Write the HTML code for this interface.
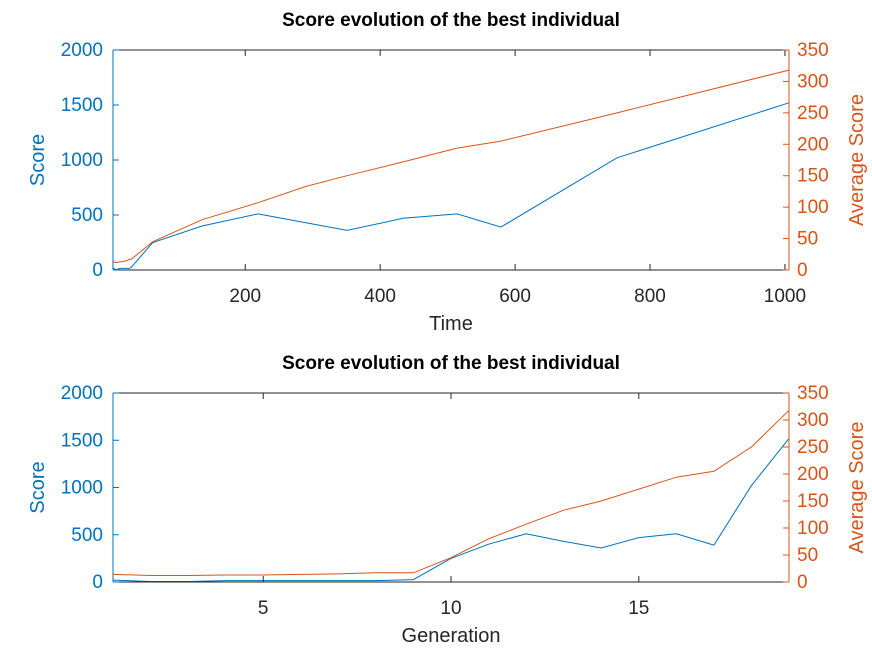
<!DOCTYPE html>
<html><head><meta charset="utf-8"><style>
body{margin:0;background:#fff;}
svg text{font-family:"Liberation Sans",sans-serif;}
</style></head><body>
<svg id="c" width="872" height="654" xmlns="http://www.w3.org/2000/svg"></svg>
<script>
const generations=[1,2,3,4,5,6,7,8,9,10,11,12,13,14,15,16,17,18,19];
const times=[4,7,10,14,17,21,25,28,31,63,136,219,290,351,434,514,579,751,1006];
const bestScore=[20,5,5,15,15,15,15,15,25,250,400,510,430,360,470,510,390,1020,1520];
const avgScore=[14,12,12,13,13,14,15,17,17,45,80,107,133,150,172,194,205,250,318];
const leftTicks=[0,500,1000,1500,2000];
const rightTicks=[0,50,100,150,200,250,300,350];
const timeTicks=[200,400,600,800,1000];
const genTicks=[5,10,15];
const BLUE='#0072BD',ORANGE='#D95319';
const svg=document.getElementById('c');
function el(tag,attrs,parent){const e=document.createElementNS('http://www.w3.org/2000/svg',tag);for(const k in attrs)e.setAttribute(k,attrs[k]);(parent||svg).appendChild(e);return e;}
function txt(s,attrs,parent){const t=el('text',attrs,parent);t.textContent=s;return t;}
function panel(p){
  const g=el('g',{});
  
  
  const L=113,R=789,T=p.top,B=p.bottom;
  const sx=v=>L+(v-p.xmin)/(p.xmax-p.xmin)*(R-L);
  const syL=v=>B-v/2000*(B-T);
  const syR=v=>B-v/350*(B-T);
  const pl=(xs,ys,sy,col,nm)=>{const pts=xs.map((x,i)=>sx(x).toFixed(1)+','+sy(ys[i]).toFixed(1)).join(' ');
    const l=el('polyline',{points:pts,fill:'none',stroke:col,'stroke-width':1},g);
    
    };
  pl(p.xs,bestScore,syL,BLUE,'best-score-line');
  pl(p.xs,avgScore,syR,ORANGE,'average-score-line');
  el('line',{x1:L,y1:T,x2:R,y2:T,stroke:'#262626'},g);
  el('line',{x1:L,y1:B,x2:R,y2:B,stroke:'#262626'},g);
  el('line',{x1:L,y1:T,x2:L,y2:B,stroke:BLUE},g);
  el('line',{x1:R,y1:T,x2:R,y2:B,stroke:ORANGE},g);
  p.xt.forEach(v=>{const x=sx(v);
    el('line',{x1:x,y1:B,x2:x,y2:B-6,stroke:'#262626'},g);
    el('line',{x1:x,y1:T,x2:x,y2:T+6,stroke:'#262626'},g);
    const t=txt(String(v),{x:x,y:B+32,'font-size':19,'text-anchor':'middle',fill:'#262626'},g);
    
    });
  leftTicks.forEach(v=>{const y=syL(v);
    el('line',{x1:L,y1:y,x2:L+6,y2:y,stroke:BLUE},g);
    const t=txt(String(v),{x:103,y:y+6,'font-size':19,'text-anchor':'end',fill:BLUE},g);
    
    });
  rightTicks.forEach(v=>{const y=syR(v);
    el('line',{x1:R,y1:y,x2:R-6,y2:y,stroke:ORANGE},g);
    const t=txt(String(v),{x:797,y:y+6,'font-size':19,'text-anchor':'start',fill:ORANGE},g);
    
    });
  const ti=txt('Score evolution of the best individual',{x:451,y:T-24,'font-size':19,'font-weight':'bold','text-anchor':'middle',fill:'#000'},g);
  
  
  const xl=txt(p.xlabel,{x:451,y:B+60,'font-size':20,'text-anchor':'middle',fill:'#262626'},g);
  
  
  const cy=(T+B)/2;
  const yl=txt('Score',{x:44,y:cy,'font-size':20,'text-anchor':'middle',fill:BLUE,transform:'rotate(-90 44 '+cy+')'},g);
  
  
  const yr=txt('Average Score',{x:863,y:cy,'font-size':20,'text-anchor':'middle',fill:ORANGE,transform:'rotate(-90 863 '+cy+')'},g);
  
  
}
panel({name:'time-panel',top:50,bottom:270,xmin:4,xmax:1006,xs:times,xt:timeTicks,xlabel:'Time'});
panel({name:'generation-panel',top:393,bottom:582,xmin:1,xmax:19,xs:generations,xt:genTicks,xlabel:'Generation'});
</script>
</body></html>
